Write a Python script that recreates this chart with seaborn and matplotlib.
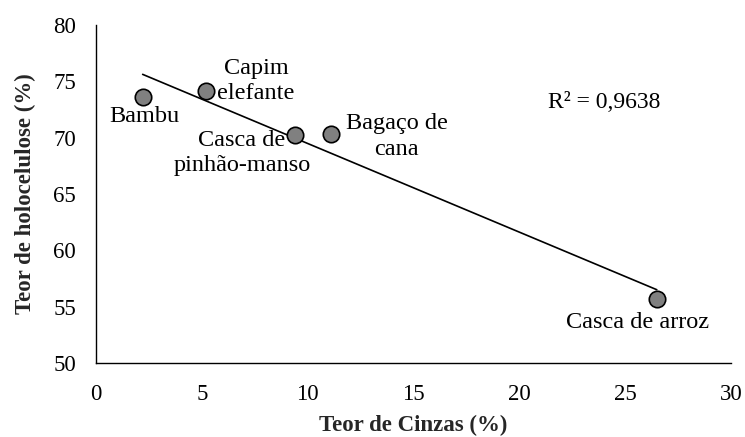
import matplotlib
matplotlib.use("Agg")
import matplotlib.pyplot as plt
import seaborn as sns
import numpy as np
import pandas as pd

# Data
materials = ["Bambu", "Capim\nelefante", "Casca de\npinhão-manso", "Bagaço de\ncana", "Casca de arroz"]
cinzas = [2.2, 5.2, 9.4, 11.1, 26.5]
holocelulose = [73.6, 74.1, 70.2, 70.3, 55.7]
r2_text = "R² = 0,9638"
x_ticks = [0, 5, 10, 15, 20, 25, 30]
y_ticks = [50, 55, 60, 65, 70, 75, 80]

df = pd.DataFrame({"material": materials, "cinzas": cinzas, "holo": holocelulose})

sns.set_theme(style="white")
plt.rcParams["font.family"] = ["Liberation Serif", "DejaVu Serif"]

fig = plt.figure(figsize=(7.45, 4.37), dpi=100)
ax = fig.add_axes([0.129, 0.1693, 0.852, 0.774])

sns.regplot(data=df, x="cinzas", y="holo", ax=ax, ci=None, scatter=False,
            truncate=True, line_kws={"color": "black", "linewidth": 1.2})
sns.scatterplot(data=df, x="cinzas", y="holo", ax=ax, s=140, color="#808080",
                edgecolor="black", linewidth=1.2, zorder=3)

# label positions (data coordinates)
label_pos = [(2.3, 71.83), (7.56, 75.03), (6.9, 68.63), (14.2, 70.1), (25.6, 53.55)]
for name, (lx, ly) in zip(materials, label_pos):
    ax.text(lx, ly, name, ha="center", va="center", fontsize=17.5,
            linespacing=1.28, color="black")
ax.text(24.0, 73.08, r2_text, ha="center", va="center", fontsize=17, color="black")

ax.set_xlim(0, 30)
ax.set_ylim(50, 80)
ax.set_xticks(x_ticks)
ax.set_yticks(y_ticks)
ax.tick_params(axis="both", direction="out", length=4.5, width=1, colors="black",
               labelsize=16.5)
ax.tick_params(axis="y", pad=10)
ax.tick_params(axis="x", pad=10.5)
for s in ["top", "right"]:
    ax.spines[s].set_visible(False)
for s in ["left", "bottom"]:
    ax.spines[s].set_color("black")
    ax.spines[s].set_linewidth(1.0)

ax.set_xlabel("Teor de Cinzas (%)", fontsize=16.5, fontweight="bold", labelpad=7)
ax.set_ylabel("Teor de holocelulose (%)", fontsize=16.5, fontweight="bold", labelpad=12)

fig.savefig("out.png", dpi=100)
